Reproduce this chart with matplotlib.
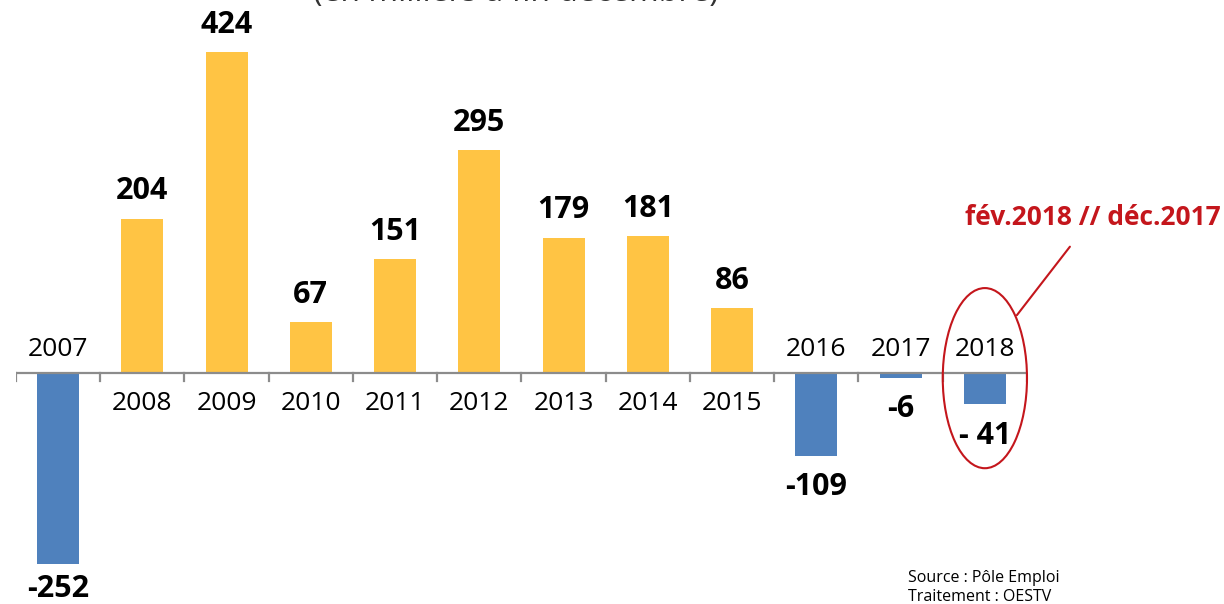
import matplotlib
matplotlib.use("Agg")
import matplotlib.pyplot as plt
from matplotlib.patches import Ellipse

years = ["2007", "2008", "2009", "2010", "2011", "2012", "2013", "2014", "2015", "2016", "2017", "2018"]
values = [-252, 204, 424, 67, 151, 295, 179, 181, 86, -109, -6, -41]
value_labels = ["-252", "204", "424", "67", "151", "295", "179", "181", "86", "-109", "-6", "- 41"]

title = "(en milliers à fin décembre)"
note = "fév.2018 // déc.2017"
source_lines = ["Source : Pôle Emploi", "Traitement : OESTV"]

YELLOW = "#FFC444"
BLUE = "#4F81BD"
RED = "#C4161C"
GRAY = "#8C8C8C"
FONT = "Open Sans"

W, H = 1224, 604
fig = plt.figure(figsize=(W / 100, H / 100), dpi=100)
ax = fig.add_axes([16 / W, 0, 1011 / W, 1])
ax.set_xlim(-0.5, len(years) - 0.5)
ax.set_ylim(-305, 493)
ax.axis("off")

x = list(range(len(years)))
colors = [YELLOW if v >= 0 else BLUE for v in values]
ax.bar(x, values, width=0.5, color=colors, zorder=2)

# axis line and boundary ticks
ax.plot([-0.5, len(years) - 0.5], [0, 0], color=GRAY, lw=1.6, zorder=3, solid_capstyle="butt")
for b in range(len(years) + 1):
    ax.plot([b - 0.5, b - 0.5], [0, -10], color=GRAY, lw=1.6, zorder=3)

for xi, v, lab, yr in zip(x, values, value_labels, years):
    if v >= 0:
        ax.text(xi, v + 36, lab, ha="center", va="center", fontsize=22,
                fontweight="bold", family=FONT)
        ax.text(xi, -40, yr, ha="center", va="center", fontsize=19, family=FONT)
    else:
        ax.text(xi, max(v - 42, -285), lab, ha="center", va="center", fontsize=22,
                fontweight="bold", family=FONT)
        ax.text(xi, 31, yr, ha="center", va="center", fontsize=19, family=FONT)

# annotation ellipse and leader line
ell = Ellipse((11, -6.6), width=1.0, height=238, fill=False, edgecolor=RED, lw=1.5,
              zorder=4, clip_on=False)
ax.add_patch(ell)
ax.annotate(note, xy=(11.38, 76.6), xytext=(12.28, 206), ha="center", va="center",
            fontsize=19, fontweight="bold", color=RED, family=FONT,
            arrowprops=dict(arrowstyle="-", color=RED, lw=1.5, shrinkA=12, shrinkB=0),
            annotation_clip=False)

fig.text(516 / W, 1 - 1 / H, title, ha="center", va="baseline", fontsize=23,
         family=FONT, color="#333333")

fig.text(908 / W, 1 - 578 / H, source_lines[0], ha="left", va="center", fontsize=11.5, family=FONT)
fig.text(908 / W, 1 - 597 / H, source_lines[1], ha="left", va="center", fontsize=11.5, family=FONT)

fig.savefig("out.png", dpi=100)
